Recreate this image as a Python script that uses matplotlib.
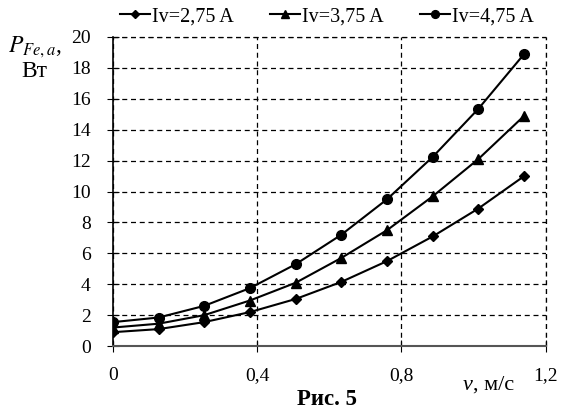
import matplotlib
matplotlib.use("Agg")
import matplotlib.pyplot as plt
from matplotlib.ticker import FuncFormatter

plt.rcParams['font.family'] = ['Liberation Serif', 'DejaVu Serif']

# speed, m/s
v = [0, 0.127, 0.253, 0.38, 0.507, 0.633, 0.76, 0.887, 1.013, 1.14]

# losses, W
p_275 = [0.9, 1.1, 1.55, 2.2, 3.05, 4.15, 5.5, 7.1, 8.9, 11.0]
p_375 = [1.2, 1.45, 2.0, 2.95, 4.1, 5.7, 7.5, 9.7, 12.1, 14.9]
p_475 = [1.55, 1.85, 2.6, 3.75, 5.3, 7.2, 9.5, 12.25, 15.35, 18.9]

labels = ["Iv=2,75 A", "Iv=3,75 A", "Iv=4,75 A"]

fig = plt.figure(figsize=(5.61, 4.15), dpi=100)
ax = fig.add_axes([0.201, 0.166, 0.772, 0.745])
ax.set_axisbelow(True)

ax.plot(v, p_275, color='black', lw=1.5, marker='D', ms=5, label=labels[0])
ax.plot(v, p_375, color='black', lw=1.5, marker='^', ms=7, label=labels[1])
ax.plot(v, p_475, color='black', lw=1.5, marker='o', ms=7, label=labels[2])

ax.set_xlim(0, 1.2)
ax.set_ylim(0, 20)
ax.set_xticks([0, 0.4, 0.8, 1.2])
ax.set_yticks(range(0, 21, 2))

def comma(x, pos):
    if x == 0:
        return "0"
    return ("%.1f" % x).replace(".", ",")

ax.xaxis.set_major_formatter(FuncFormatter(comma))
ax.grid(True, color='black', ls='--', lw=0.9, dashes=(4, 3))
# outer dashed frame (top and right)
ax.axhline(20, color='black', lw=0.9, ls='--', dashes=(4, 3), clip_on=False)
ax.axvline(1.2, color='black', lw=0.9, ls='--', dashes=(4, 3), clip_on=False)

for side in ['top', 'right']:
    ax.spines[side].set_visible(False)
ax.spines['left'].set_linewidth(1.2)
ax.spines['left'].set_zorder(3)
ax.spines['bottom'].set_color('#555555')
ax.spines['bottom'].set_linewidth(1.5)
ax.spines['bottom'].set_zorder(3)

ax.tick_params(axis='y', direction='inout', length=8, labelsize=14, pad=12)
ax.tick_params(axis='x', direction='inout', length=8, labelsize=14, pad=11)

ax.legend(loc='center left', bbox_to_anchor=(0.016, 1.065), ncol=3, frameon=False,
          fontsize=14.5, handlelength=1.5, handletextpad=0.1, columnspacing=1.8,
          markerscale=0.8, borderaxespad=0, borderpad=0)

fig.text(0.015, 0.885, r"$P_{Fe,a}$,", fontsize=17, ha='left', va='center',
         family='Liberation Serif', math_fontfamily='stix')
fig.text(0.061, 0.828, "Вт", fontsize=17, ha='center', va='center')
fig.text(0.842, 0.072, "v", fontsize=16, style='italic', ha='right', va='center')
fig.text(0.844, 0.072, ", м/с", fontsize=16, ha='left', va='center')
fig.text(0.583, 0.038, "Рис. 5", fontsize=16.5, weight='bold', ha='center', va='center')

fig.savefig("out.png", dpi=100)
